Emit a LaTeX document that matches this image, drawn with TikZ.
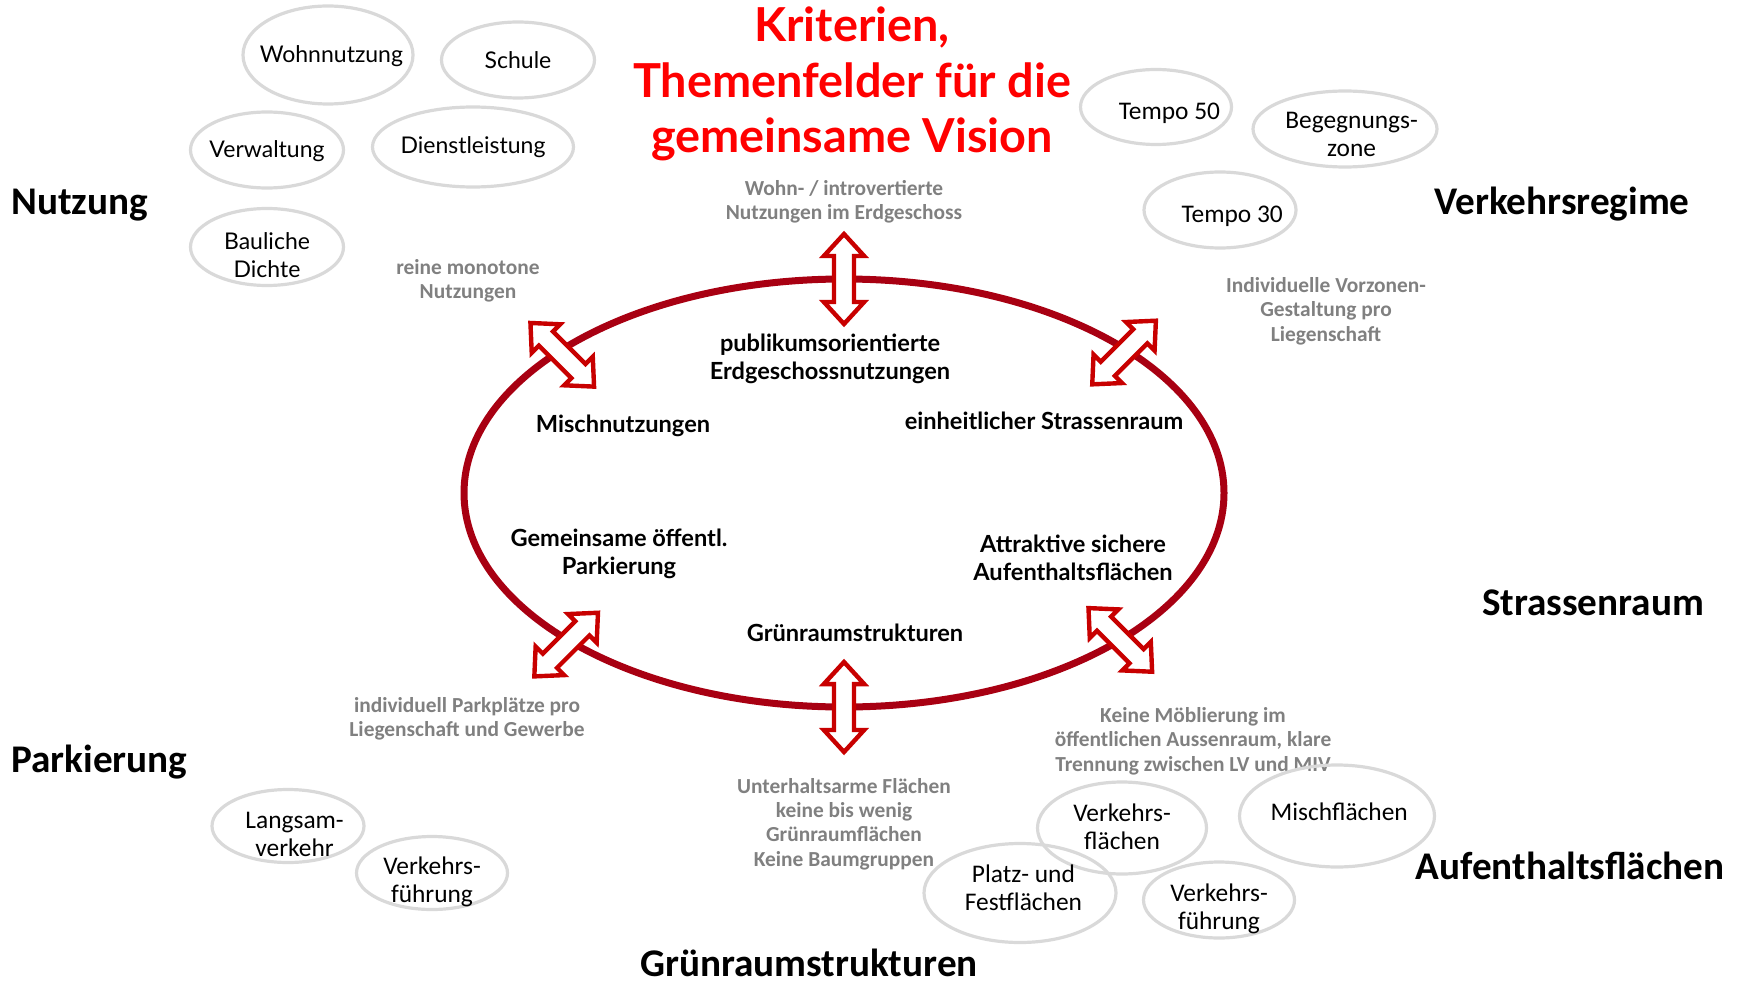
\documentclass[tikz,border=0pt]{standalone}
\usepackage{fontspec}
\setmainfont{Lato}
\newfontfamily\calfont{Carlito}
\usetikzlibrary{shapes.geometric,shapes.arrows,positioning}
\definecolor{ringred}{RGB}{168,0,18}
\definecolor{arrowred}{RGB}{200,0,0}
\definecolor{titlered}{RGB}{255,0,0}
\definecolor{bubblegray}{RGB}{217,217,217}
\definecolor{notegray}{RGB}{128,128,128}

\begin{document}
\begin{tikzpicture}[x=0.5pt,y=-0.5pt,node distance=48.5pt,
    bubble/.style={ellipse,draw=bubblegray,line width=1.6pt,inner sep=0pt},
    nutz text/.style={align=center,font=\fontsize{11.5}{13.9}\selectfont},
    verk text/.style={align=center,font=\calfont\fontsize{12.7}{13.9}\selectfont},
    topic/.style={inner sep=0pt,font=\calfont\bfseries\fontsize{19.6}{23}\selectfont},
    inner label/.style={align=center,font=\bfseries\fontsize{11.8}{13.9}\selectfont},
    note/.style={align=center,text=notegray,font=\calfont\bfseries\fontsize{10.7}{12.2}\selectfont},
    hollow arrow/.style={double arrow,draw=arrowred,fill=white,line width=2.2pt,inner sep=3.9pt,
        minimum height=45pt,minimum width=18pt,double arrow head extend=5.1pt,double arrow tip angle=85}]
    \useasboundingbox (0,0) rectangle (1744,984);

    % title
    \node[align=center,text=titlered,font=\bfseries\fontsize{23.4}{27.8}\selectfont] (title) at (852,84)
        {Kriterien,\\Themenfelder für die\\gemeinsame Vision};

    % ring and arrows
    \node[ellipse,draw=ringred,line width=3.5pt,outer sep=0pt,minimum width=380pt,minimum height=214pt] (ring) at (844,493) {};
    \node[hollow arrow,rotate=90] (up) at (ring.north) {};
    \node[hollow arrow,rotate=90] (down) at (ring.south) {};
    \node[hollow arrow,rotate=-45,xshift=1.9pt,yshift=-1.9pt] (nw) at (ring.153) {};
    \node[hollow arrow,rotate=45,xshift=-1.7pt,yshift=-0.5pt] (ne) at (ring.27) {};
    \node[hollow arrow,rotate=45,xshift=-2.2pt,yshift=-1.1pt] (sw) at (ring.208) {};
    \node[hollow arrow,rotate=-45] (se) at (ring.332) {};

    % labels inside the ring
    \node[inner label] (publikum) at (830,359) {publikumsorientierte\\Erdgeschossnutzungen};
    \node[inner label] (misch) at (623,426) {Mischnutzungen};
    \node[inner label] (einheit) at (1044,421) {einheitlicher Strassenraum};
    \node[inner label] (parkinner) at (619,554) {Gemeinsame öffentl.\\Parkierung};
    \node[inner label] (aufinner) at (1073,558) {Attraktive sichere\\Aufenthaltsflächen};
    \node[inner label] (gruninner) at (855,633) {Grünraumstrukturen};

    % grey notes
    \node[note] (n1) at (844,202) {Wohn- / introvertierte\\Nutzungen im Erdgeschoss};
    \node[note] (n2) at (468,281) {reine monotone\\Nutzungen};
    \node[note] (n3) at (1326,311) {Individuelle Vorzonen-\\Gestaltung pro\\Liegenschaft};
    \node[note] (n4) at (467,719) {individuell Parkplätze pro\\Liegenschaft und Gewerbe};
    \node[note] (n5) at (844,824) {Unterhaltsarme Flächen\\keine bis wenig\\Grünraumflächen\\Keine Baumgruppen};
    \node[note] (n6) at (1193,741) {Keine Möblierung im\\öffentlichen Aussenraum, klare\\Trennung zwischen LV und MIV};

    % topics
    \node[topic,anchor=west] (nutzung) at (11,205) {Nutzung};
    \node[topic] (regime) at (1562,204) {Verkehrsregime};
    \node[topic] (strasse) at (1593,603) {Strassenraum};
    \node[topic,anchor=west] (parkierung) at (11,762) {Parkierung};
    \node[topic] (aufenthalt) at (1570,866) {Aufenthaltsflächen};
    \node[topic] (gruen) at (809,963) {Grünraumstrukturen};

    % bubbles
    \node[bubble,minimum width=85pt,minimum height=49pt,
        label={[nutz text,xshift=1.7pt,yshift=-0.8pt]center:Wohnnutzung}] (wohn) at (328,55) {};
    \node[bubble,minimum width=76.5pt,minimum height=38pt,
        label={[nutz text]center:Schule}] (schule) at (518,60) {};
    \node[bubble,minimum width=76.5pt,minimum height=38pt,
        label={[nutz text,yshift=-0.6pt]center:Verwaltung}] (verw) at (267,150) {};
    \node[bubble,minimum width=100.5pt,minimum height=40pt,
        label={[nutz text]center:Dienstleistung}] (dienst) at (473,147) {};
    \node[bubble,minimum width=76.5pt,minimum height=38.5pt,
        label={[nutz text,yshift=-3.9pt]center:{Bauliche\\Dichte}}] (dichte) [below of=verw] {};

    \node[bubble,minimum width=75.5pt,minimum height=37.5pt,
        label={[verk text,xshift=6.7pt,yshift=-3.3pt]center:Tempo 50}] (t50) at (1156,107) {};
    \node[bubble,minimum width=92pt,minimum height=38pt,
        label={[verk text,xshift=3.3pt,yshift=-2.8pt]center:{Begegnungs-\\zone}}] (begeg) at (1345,129) {};
    \node[bubble,minimum width=76pt,minimum height=38pt,
        label={[verk text,xshift=6.1pt,yshift=-3.3pt]center:Tempo 30}] (t30) at (1220,210) {};

    \node[bubble,minimum width=76pt,minimum height=36.5pt,
        label={[verk text,xshift=3.3pt,yshift=-4.4pt]center:{Langsam-\\verkehr}}] (langsam) at (288,826) {};
    \node[bubble,minimum width=75.5pt,minimum height=36.5pt,
        label={[verk text,yshift=-4.6pt]center:{Verkehrs-\\führung}}] (fuehrA) at (432,873) {};

    \node[bubble,minimum width=84.5pt,minimum height=46pt,
        label={[verk text,yshift=0.6pt]center:{Verkehrs-\\flächen}}] (vflaech) at (1122,828) {};
    \node[bubble,minimum width=97.5pt,minimum height=51pt,
        label={[verk text,xshift=1.1pt,yshift=2.2pt]center:Mischflächen}] (mischfl) at (1337,816) {};
    \node[bubble,minimum width=96pt,minimum height=49.5pt,
        label={[verk text,xshift=1.7pt,yshift=2.8pt]center:{Platz- und\\Festflächen}}] (platz) at (1020,893) {};
    \node[bubble,minimum width=75.5pt,minimum height=38pt,
        label={[verk text,yshift=-4.4pt]center:{Verkehrs-\\führung}}] (fuehrB) at (1219,900) {};
\end{tikzpicture}
\end{document}
